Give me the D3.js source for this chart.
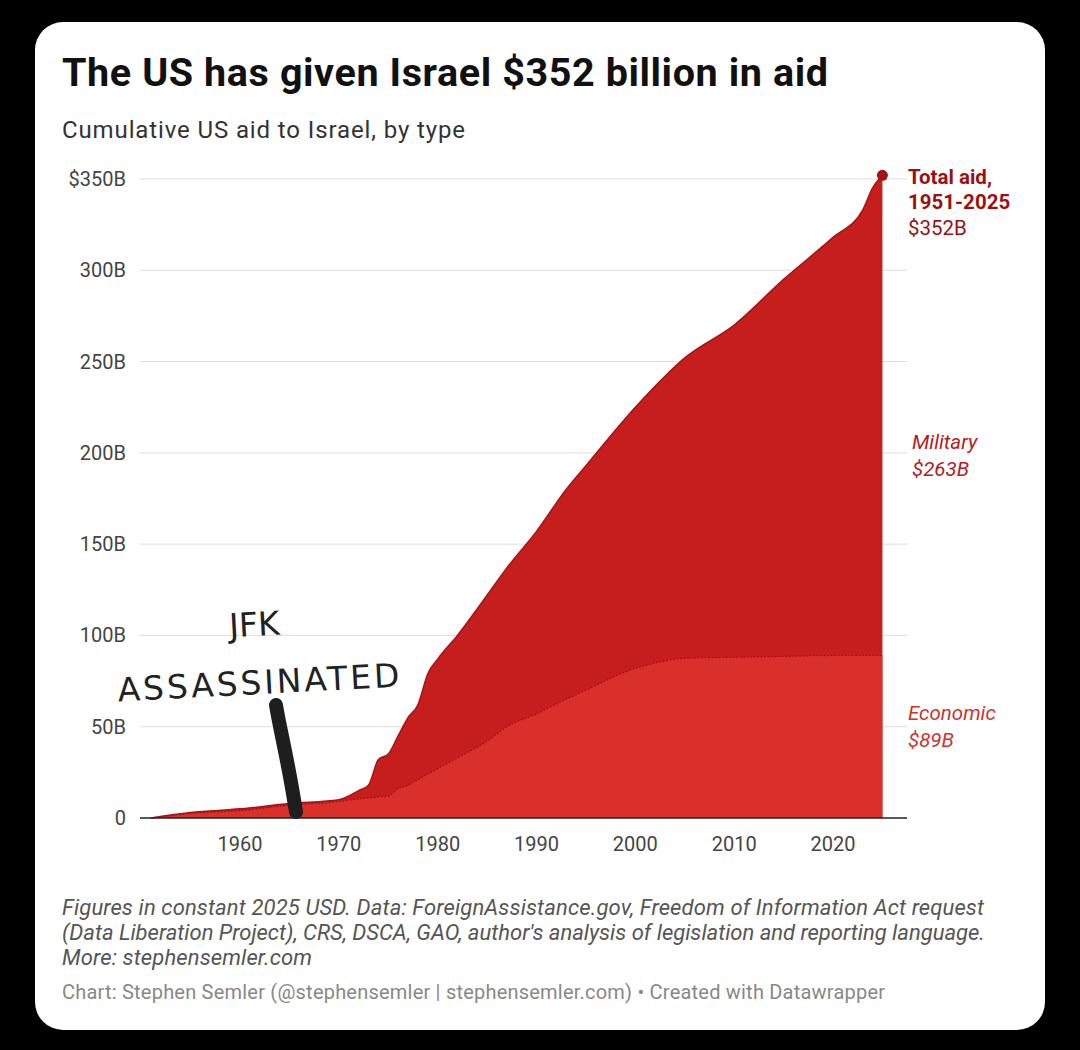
<!DOCTYPE html>
<html><head><meta charset="utf-8">
<script src="https://cdn.jsdelivr.net/npm/d3@7"></script>
<style>
body{margin:0;background:#000;font-family:Roboto,sans-serif}
</style></head><body>
<div id="chart"></div>
<script>
var years   = [1951,1955,1960,1965,1970,1972,1973,1974,1975,1976,1977,1978,1979,1980,1982,1985,1987,1990,1993,1995,2000,2003,2005,2010,2015,2020,2023,2024,2025];
var total   = [0,3,5,8,10,15,18,32,35,45,55,62,79,87,100,122,137,157,180,193,225,242,252,270,295,318,333,345,352];
var economic= [0,2.5,4,7,9,10.5,11,11.5,12,16,18,21,24,27,33,42,50,57,65,70,82,86,87.5,88,88.5,89,89,89,89];
var yTicks  = [0,50,100,150,200,250,300,350];
var xTicks  = [1960,1970,1980,1990,2000,2010,2020];

var W=1080,H=1050;
var svg=d3.select("#chart").append("svg").attr("width",W).attr("height",H);
svg.append("rect").attr("x",35).attr("y",22).attr("width",1010).attr("height",1008).attr("rx",28).attr("fill","#fff");

var x=d3.scaleLinear().domain([1960,2020]).range([240,833]);
var y=d3.scaleLinear().domain([0,350]).range([818,179]);
var data=years.map(function(d,i){return {year:d,total:total[i],econ:economic[i]}});

svg.append("text").attr("x",62).attr("y",86).attr("font-size",39.5).attr("font-weight",700).attr("fill","#111").attr("textLength",766).text("The US has given Israel $352 billion in aid");
svg.append("text").attr("x",62).attr("y",138).attr("font-size",24).attr("fill","#333").attr("textLength",403).text("Cumulative US aid to Israel, by type");

// grid
yTicks.forEach(function(t){
  if(t>0) svg.append("line").attr("x1",140).attr("x2",907).attr("y1",y(t)).attr("y2",y(t)).attr("stroke","#ddd");
  svg.append("text").attr("x",126).attr("y",y(t)+7).attr("text-anchor","end").attr("font-size",20).attr("fill","#444").text(t==0?"0":(t==350?"$350B":t+"B"));
});

svg.append("path").datum(data).attr("fill","#c61d1d")
  .attr("d",d3.area().curve(d3.curveMonotoneX).x(function(d){return x(d.year)}).y0(y(0)).y1(function(d){return y(d.total)}));
svg.append("path").datum(data).attr("fill","#d9302c")
  .attr("d",d3.area().curve(d3.curveMonotoneX).x(function(d){return x(d.year)}).y0(y(0)).y1(function(d){return y(d.econ)}));
svg.append("path").datum(data).attr("fill","none").attr("stroke","#9a1010").attr("stroke-width",1.2).attr("stroke-dasharray","1.5,2")
  .attr("d",d3.line().curve(d3.curveMonotoneX).x(function(d){return x(d.year)}).y(function(d){return y(d.econ)}));
svg.append("path").datum(data).attr("fill","none").attr("stroke","#a51414").attr("stroke-width",1.5)
  .attr("d",d3.line().curve(d3.curveMonotoneX).x(function(d){return x(d.year)}).y(function(d){return y(d.total)}));

svg.append("line").attr("x1",140).attr("x2",907).attr("y1",y(0)).attr("y2",y(0)).attr("stroke","#222").attr("stroke-width",1.5);
xTicks.forEach(function(t){
  svg.append("text").attr("x",x(t)).attr("y",851).attr("text-anchor","middle").attr("font-size",20).attr("fill","#444").text(t);
});

var last=data[data.length-1];
svg.append("circle").attr("cx",x(last.year)).attr("cy",y(last.total)).attr("r",5.5).attr("fill","#a51414");
svg.append("text").attr("x",908).attr("y",184).attr("font-size",20.5).attr("font-weight",700).attr("fill","#9b1111").text("Total aid,");
svg.append("text").attr("x",908).attr("y",209).attr("font-size",20.5).attr("font-weight",700).attr("fill","#9b1111").text("1951-2025");
svg.append("text").attr("x",908).attr("y",235).attr("font-size",20.5).attr("fill","#9b1111").text("$352B");
svg.append("text").attr("x",912).attr("y",449).attr("font-size",20.5).attr("font-style","italic").attr("fill","#b32020").text("Military");
svg.append("text").attr("x",912).attr("y",476).attr("font-size",20.5).attr("font-style","italic").attr("fill","#b32020").text("$263B");
svg.append("text").attr("x",908).attr("y",720).attr("font-size",20.5).attr("font-style","italic").attr("fill","#c9352f").text("Economic");
svg.append("text").attr("x",908).attr("y",747).attr("font-size",20.5).attr("font-style","italic").attr("fill","#c9352f").text("$89B");

// handwritten annotation
svg.append("text").attr("x",255).attr("y",636).attr("font-size",33).attr("font-family","'DejaVu Sans'").attr("fill","#222").attr("text-anchor","middle").attr("transform","rotate(-3,255,636)").text("JFK");
svg.append("text").attr("x",259).attr("y",694).attr("font-size",33).attr("font-family","'DejaVu Sans'").attr("fill","#222").attr("text-anchor","middle").attr("textLength",282).attr("transform","rotate(-3,259,694)").text("ASSASSINATED");
svg.append("path").attr("d","M276,705 C280,730 288,760 296,812").attr("stroke","#1e1e1e").attr("stroke-width",14).attr("stroke-linecap","round").attr("fill","none");

var foot=["Figures in constant 2025 USD. Data: ForeignAssistance.gov, Freedom of Information Act request","(Data Liberation Project), CRS, DSCA, GAO, author's analysis of legislation and reporting language.","More: stephensemler.com"];
var footLen=[922,923,250];
foot.forEach(function(t,i){
  svg.append("text").attr("x",62).attr("y",915+i*25).attr("font-size",22).attr("font-style","italic").attr("fill","#555").attr("textLength",footLen[i]).text(t);
});
svg.append("text").attr("x",62).attr("y",999).attr("font-size",20).attr("fill","#888").attr("textLength",823).text("Chart: Stephen Semler (@stephensemler | stephensemler.com) • Created with Datawrapper");
</script></body></html>
